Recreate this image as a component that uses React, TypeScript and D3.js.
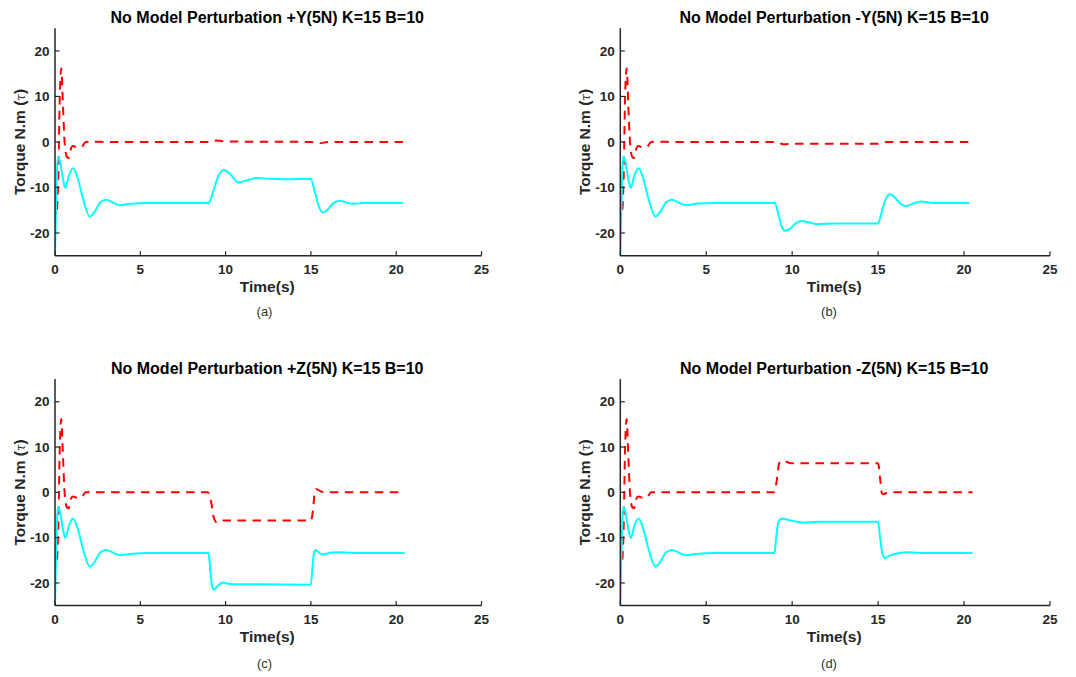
import React from "react";
import * as d3 from "d3";

type Pt = [number, number];

// Shared start-up transient (identical in all four runs)
const startCyan: Pt[] = [
  [0, -25], [0.06, -14], [0.12, -6], [0.18, -3.2], [0.3, -4.4], [0.45, -7.8], [0.61, -10.1],
  [0.8, -7.6], [1.06, -5.8], [1.3, -7.6], [1.65, -12.6], [2.04, -16.4], [2.35, -15.2],
  [2.65, -13.3], [3.0, -12.7], [3.4, -13.3], [3.83, -13.9], [4.4, -13.6], [5.5, -13.4]
];
const startRed: Pt[] = [
  [0, -12.1], [0.1, -15.1], [0.19, -8.5], [0.28, 9.9], [0.37, 16.2], [0.47, 7.7],
  [0.57, -0.4], [0.7, -3.3], [0.8, -3.5], [0.95, -1.3], [1.05, -0.9], [1.3, -1.2],
  [1.55, -1.1], [1.8, 0], [2.3, 0.05], [3.0, 0]
];

// (a) +Y
const cyanA: Pt[] = [
  [9.0, -13.4], [9.3, -10.5], [9.6, -7.3], [9.9, -6.1], [10.3, -7.2], [10.75, -8.9], [11.2, -8.5],
  [11.8, -7.9], [12.5, -8.1], [13.5, -8.2], [15.0, -8.1], [15.2, -10.5], [15.45, -14], [15.7, -15.5],
  [16.0, -14.8], [16.3, -13.5], [16.7, -12.9], [17.1, -13.3], [17.5, -13.6], [18.2, -13.4], [20.4, -13.4]
];
const redA: Pt[] = [
  [9.0, 0], [9.5, 0.3], [10.0, 0.1], [15.0, 0], [15.5, -0.3], [16.0, 0], [20.4, 0]
];

// (b) -Y
const cyanB: Pt[] = [
  [9.0, -13.4], [9.2, -16], [9.4, -18.7], [9.6, -19.5], [9.9, -19], [10.2, -17.9], [10.6, -17.4],
  [11.0, -17.7], [11.5, -18.1], [12.5, -17.9], [15.0, -17.9], [15.2, -15.5], [15.45, -12.5],
  [15.7, -11.5], [16.0, -12.3], [16.3, -13.6], [16.6, -14.1], [17.0, -13.6], [17.5, -13.1],
  [18.2, -13.4], [20.3, -13.4]
];
const redB: Pt[] = [
  [9.0, 0], [9.5, -0.5], [10.0, -0.4], [15.0, -0.4], [15.5, 0], [20.3, 0]
];

// (c) +Z
const cyanC: Pt[] = [
  [9.0, -13.4], [9.1, -17], [9.2, -20.5], [9.32, -21.5], [9.5, -20.8], [9.85, -19.9], [10.2, -20.2],
  [10.5, -20.3], [12.0, -20.3], [15.0, -20.4], [15.08, -17], [15.18, -13.5], [15.28, -12.7],
  [15.45, -13.2], [15.66, -13.7], [16.2, -13.3], [16.6, -13.2], [17.5, -13.4], [20.5, -13.4]
];
const redC: Pt[] = [
  [8.95, 0], [9.15, -2], [9.3, -5.5], [9.5, -6.7], [9.85, -6.2], [15.0, -6.2], [15.12, -4],
  [15.2, -0.8], [15.28, 0.7], [15.4, 0.6], [15.7, 0.05], [20.5, 0]
];

// (d) -Z
const cyanD: Pt[] = [
  [8.97, -13.4], [9.07, -10], [9.2, -6.5], [9.42, -5.8], [9.8, -6.1], [10.3, -6.5], [10.7, -6.7],
  [11.5, -6.5], [15.0, -6.5], [15.1, -9.5], [15.25, -13.5], [15.4, -14.5], [15.7, -13.9],
  [16.2, -13.4], [16.6, -13.2], [17.5, -13.4], [20.5, -13.4]
];
const redD: Pt[] = [
  [8.95, 0], [9.1, 2.5], [9.25, 6.5], [9.45, 7.0], [9.95, 6.4], [15.0, 6.4], [15.12, 3],
  [15.22, -0.2], [15.3, -0.4], [15.6, 0], [20.5, 0]
];

const xTicks = [0, 5, 10, 15, 20, 25];
const yTicks = [-20, -10, 0, 10, 20];
const titles = [
  "No Model Perturbation +Y(5N) K=15 B=10",
  "No Model Perturbation -Y(5N) K=15 B=10",
  "No Model Perturbation +Z(5N) K=15 B=10",
  "No Model Perturbation -Z(5N) K=15 B=10"
];
const captions = ["(a)", "(b)", "(c)", "(d)"];
const cyanSeries = [cyanA, cyanB, cyanC, cyanD];
const redSeries = [redA, redB, redC, redD];

const FONT = "'Liberation Sans', Arial, sans-serif";
const AX = "#262626";

const layouts = [
  { x0: 55, x1: 481.5, y0: 28.2, y1: 255.7, capX: 264.5, capY: 316 },
  { x0: 620.3, x1: 1050, y0: 28.2, y1: 255.7, capX: 829, capY: 316 },
  { x0: 55, x1: 481.5, y0: 379.1, y1: 605.6, capX: 264.5, capY: 668 },
  { x0: 620.3, x1: 1050, y0: 379.1, y1: 605.6, capX: 829, capY: 668 }
];

function Panel({ i }: { i: number }) {
  const L = layouts[i];
  const x = d3.scaleLinear().domain([0, 25]).range([L.x0, L.x1]);
  const y = d3.scaleLinear().domain([-25, 25]).range([L.y1, L.y0]);
  const line = d3
    .line<Pt>()
    .x((d) => x(d[0]))
    .y((d) => y(d[1]))
    .curve(d3.curveMonotoneX);
  const cyan = [...startCyan.filter((p) => p[0] < cyanSeries[i][0][0]), ...cyanSeries[i]];
  const red = [...startRed.filter((p) => p[0] < redSeries[i][0][0]), ...redSeries[i]];
  const cx = (L.x0 + L.x1) / 2 - 1;
  const cy = (L.y0 + L.y1) / 2;
  const clipId = `clip${i}`;
  return (
    <g>
      <defs>
        <clipPath id={clipId}>
          <rect x={L.x0} y={L.y0} width={L.x1 - L.x0} height={L.y1 - L.y0} />
        </clipPath>
      </defs>
      <g clipPath={`url(#${clipId})`}>
        <path d={line(red) || ""} fill="none" stroke="#ff0000" strokeWidth={2} strokeDasharray="8.5,6.5" />
        <path d={line(cyan) || ""} fill="none" stroke="#00ffff" strokeWidth={2} />
      </g>
      {/* axes */}
      <line x1={L.x0} x2={L.x1} y1={L.y1} y2={L.y1} stroke={AX} strokeWidth={1.5} />
      <line x1={L.x0} x2={L.x0} y1={L.y0} y2={L.y1} stroke={AX} strokeWidth={1.5} />
      {xTicks.map((t) => (
        <g key={"x" + t}>
          <line x1={x(t)} x2={x(t)} y1={L.y1} y2={L.y1 - 4.5} stroke={AX} strokeWidth={1.2} />
          <text x={x(t)} y={L.y1 + 18.5} textAnchor="middle" fontFamily={FONT} fontWeight="bold" fontSize={13.5} fill={AX}>
            {t}
          </text>
        </g>
      ))}
      {yTicks.map((t) => (
        <g key={"y" + t}>
          <line x1={L.x0} x2={L.x0 + 4.5} y1={y(t)} y2={y(t)} stroke={AX} strokeWidth={1.2} />
          <text x={L.x0 - 5.5} y={y(t) + 4.7} textAnchor="end" fontFamily={FONT} fontWeight="bold" fontSize={13.5} fill={AX}>
            {t}
          </text>
        </g>
      ))}
      <text x={cx} y={L.y0 - 4.8} textAnchor="middle" fontFamily={FONT} fontWeight="bold" fontSize={16} fill="#000">
        {titles[i]}
      </text>
      <text x={cx} y={L.y1 + 36.5} textAnchor="middle" fontFamily={FONT} fontWeight="bold" fontSize={15.5} fill={AX}>
        Time(s)
      </text>
      <text
        transform={`translate(${L.x0 - 30},${cy}) rotate(-90)`}
        textAnchor="middle"
        fontFamily={FONT}
        fontWeight="bold"
        fontSize={15.5}
        fill={AX}
      >
        Torque N.m (<tspan fontStyle="italic" fontWeight="normal" fontFamily="'DejaVu Serif', serif" fontSize={12}>τ</tspan>)
      </text>
      <text x={L.capX} y={L.capY} textAnchor="middle" fontFamily={FONT} fontSize={13} fill="#333">
        {captions[i]}
      </text>
    </g>
  );
}

export default function App() {
  return (
    <svg
      width={1076}
      height={677}
      style={{ position: "absolute", left: 0, top: 0, background: "#fff" }}
    >
      <rect width={1076} height={677} fill="#fff" />
      {[0, 1, 2, 3].map((i) => (
        <Panel key={i} i={i} />
      ))}
    </svg>
  );
}
